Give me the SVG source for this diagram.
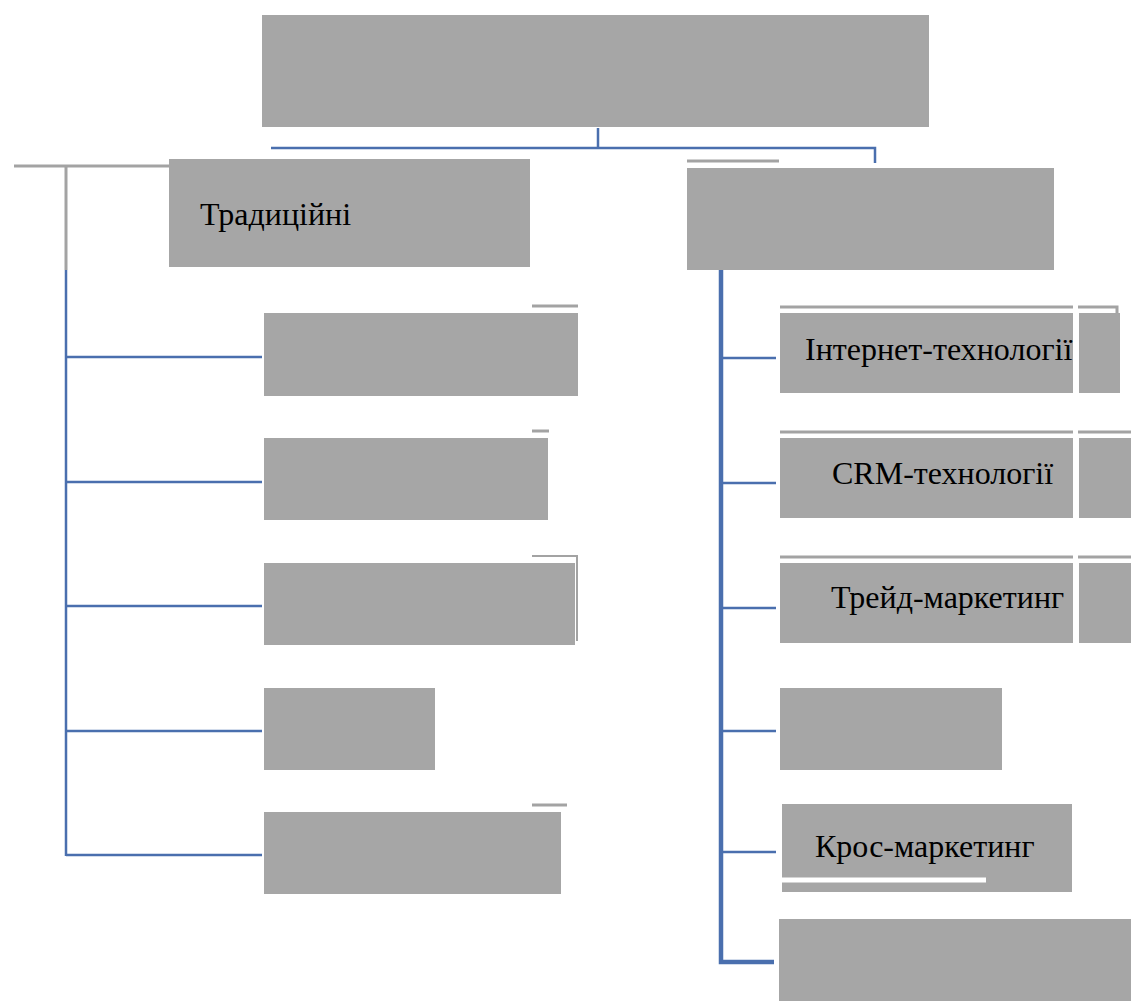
<svg xmlns="http://www.w3.org/2000/svg" width="1131" height="1001" viewBox="0 0 1131 1001">
<style>
.box{fill:#a6a6a6}
.gl{stroke:#a3a3a3;stroke-width:3;fill:none}
.bl{stroke:#4a6fae;stroke-width:2.5;fill:none}
.bt{stroke:#4a6fae;stroke-width:4.5;fill:none}
.t{font-family:'Liberation Serif','DejaVu Serif',serif;font-size:32px;fill:#000}
</style>
<rect width="1131" height="1001" fill="#ffffff"/>
<g id="connectors">
<path class="bl" d="M598 128V148M271 148H875V163"/>
<path class="gl" d="M14 166H170M66 166V270"/>
<path class="bl" d="M66 270V856M66 357H262M66 482H262M66 606H262M66 731H262M66 855H262"/>
<path class="bt" d="M721 257V962H774"/>
<path class="bl" d="M721 358H776M721 483H776M721 608H776M721 731H776M721 852H776"/>
</g>
<g id="root"><rect class="box" x="262" y="15" width="667" height="112"/></g>
<g id="traditional"><rect class="box" x="169" y="159" width="361" height="108"/><text class="t" x="200" y="225">Традиційні</text></g>
<g id="modern"><path class="gl" d="M687 161H779"/><rect class="box" x="687" y="168" width="367" height="102"/></g>
<g id="l1"><path class="gl" d="M532 306H578"/><rect class="box" x="264" y="313" width="314" height="83"/></g>
<g id="l2"><path class="gl" d="M532 431H549"/><rect class="box" x="264" y="438" width="284" height="82"/></g>
<g id="l3"><path class="gl" d="M532 556H577V641" style="stroke-width:2"/><rect class="box" x="264" y="563" width="311" height="82"/></g>
<g id="l4"><rect class="box" x="264" y="688" width="171" height="82"/></g>
<g id="l5"><path class="gl" d="M532 805H567"/><rect class="box" x="264" y="812" width="297" height="82"/></g>
<g id="r1"><path class="gl" d="M780 307H1073M1078 307H1117V315"/><rect class="box" x="780" y="313" width="293" height="80"/><rect class="box" x="1079" y="313" width="41" height="80"/><text class="t" x="805" y="360">Інтернет-технології</text></g>
<g id="r2"><path class="gl" d="M780 432H1073M1078 432H1131"/><rect class="box" x="780" y="438" width="293" height="80"/><rect class="box" x="1079" y="438" width="52" height="80"/><text class="t" x="832" y="484">CRM-технології</text></g>
<g id="r3"><path class="gl" d="M780 557H1073M1078 557H1131"/><rect class="box" x="780" y="563" width="293" height="80"/><rect class="box" x="1079" y="563" width="52" height="80"/><text class="t" x="831" y="608">Трейд-маркетинг</text></g>
<g id="r4"><rect class="box" x="780" y="688" width="222" height="82"/></g>
<g id="r5"><rect class="box" x="782" y="804" width="290" height="88"/><path d="M782 880H986" stroke="#ffffff" stroke-width="5"/><text class="t" x="815" y="857">Крос-маркетинг</text></g>
<g id="r6"><rect class="box" x="779" y="919" width="352" height="82"/></g>
</svg>
